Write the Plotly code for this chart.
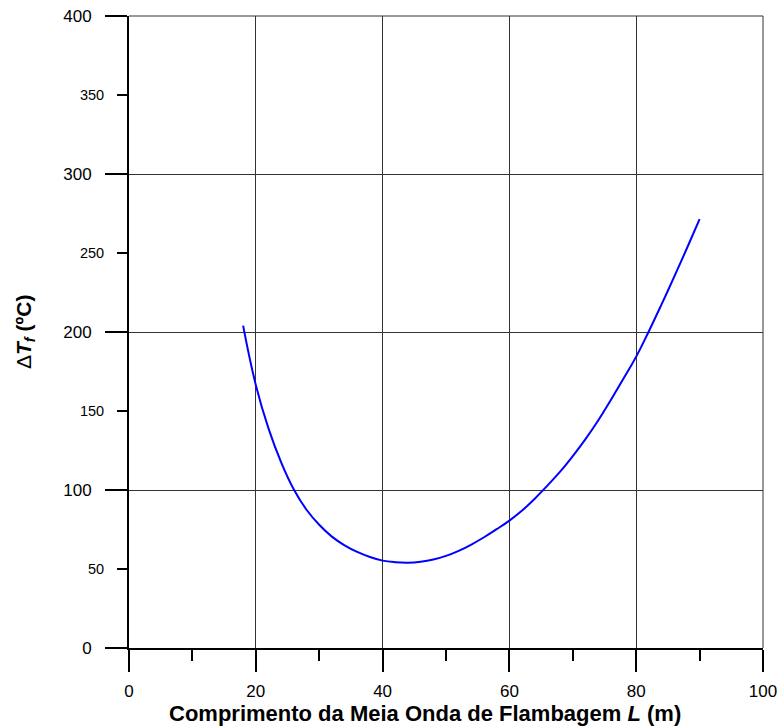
import plotly.graph_objects as go

L_vals = [18, 20, 22, 24, 26, 28, 30, 32, 34, 36, 38, 40, 42, 44, 46, 48, 50, 52, 54, 56, 58,
          60, 62, 64, 66, 68, 70, 72, 74, 76, 78, 80, 82, 84, 86, 88, 90]
dT_vals = [204, 166.5, 139, 117.5, 100.3, 87.5, 78, 70.5, 65, 60.8, 57.6, 55.3, 54.3, 54.0, 54.6,
           56.0, 58.3, 61.5, 65.5, 70.1, 75.2, 80.6, 87, 94.5, 102.8, 111.6, 121.5, 132.2, 144,
           157, 170.5, 184.4, 200.5, 217.5, 235, 253, 271.5]

x_major = [0, 20, 40, 60, 80, 100]
y_major = [0, 100, 200, 300, 400]
y_minor = [50, 150, 250, 350]

FONT = "Arial, Liberation Sans, sans-serif"
GRID = "#333333"

fig = go.Figure()
fig.add_trace(go.Scatter(x=L_vals, y=dT_vals, mode="lines",
                         line=dict(color="#0000FF", width=2, shape="spline", smoothing=1.2),
                         showlegend=False, hoverinfo="skip"))
# invisible trace to carry the secondary (minor-label) y axis
fig.add_trace(go.Scatter(x=[0], y=[0], yaxis="y2", mode="markers",
                         marker=dict(opacity=0), showlegend=False, hoverinfo="skip"))

fig.update_layout(
    width=777, height=727,
    margin=dict(l=129, r=14, t=16, b=79),
    paper_bgcolor="white", plot_bgcolor="white",
    font=dict(family=FONT, size=17, color="black"),
    xaxis=dict(range=[0, 100], tickvals=x_major, ticks="outside", ticklen=22, tickwidth=2,
               tickcolor="black", showline=True, linecolor="black", linewidth=2,
               showgrid=True, gridcolor=GRID, gridwidth=1, zeroline=False, automargin=False,
               ticklabelstandoff=5, ticklabeloverflow="allow",
               minor=dict(dtick=10, ticks="outside", ticklen=11, tickwidth=2, tickcolor="black", showgrid=False),
               tickfont=dict(size=17)),
    yaxis=dict(range=[0, 400], tickvals=y_major, ticks="outside", ticklen=22, tickwidth=2,
               tickcolor="black", showline=True, linecolor="black", linewidth=2,
               showgrid=True, gridcolor=GRID, gridwidth=1, zeroline=False, automargin=False,
               ticklabelstandoff=10, ticklabeloverflow="allow", tickfont=dict(size=17)),
    yaxis2=dict(range=[0, 400], overlaying="y", side="left", tickvals=y_minor, ticks="outside",
                ticklen=11, tickwidth=2, tickcolor="black", showline=False, showgrid=False,
                zeroline=False, automargin=False, ticklabelstandoff=10, ticklabeloverflow="allow",
                tickfont=dict(size=14.5)),
    shapes=[
        dict(type="line", xref="paper", yref="paper", x0=1, x1=1, y0=0, y1=1,
             line=dict(color=GRID, width=1), layer="below"),
        dict(type="line", xref="paper", yref="paper", x0=0, x1=1, y0=1, y1=1,
             line=dict(color=GRID, width=1), layer="below"),
    ],
    annotations=[
        dict(text="<b>Comprimento da Meia Onda de Flambagem <i>L</i> (m)</b>",
             xref="paper", yref="paper", x=0.467, y=-0.103, xanchor="center", yanchor="middle",
             showarrow=False, font=dict(size=22, family=FONT)),
        dict(text="Δ<b><i>T</i></b><sub><b><i>f</i></b></sub><b> (ºC)</b>",
             xref="paper", yref="paper", x=-0.164, y=0.5, xanchor="center", yanchor="middle",
             textangle=-90, showarrow=False, font=dict(size=21, family=FONT)),
    ],
)

fig.write_html("out.html")
